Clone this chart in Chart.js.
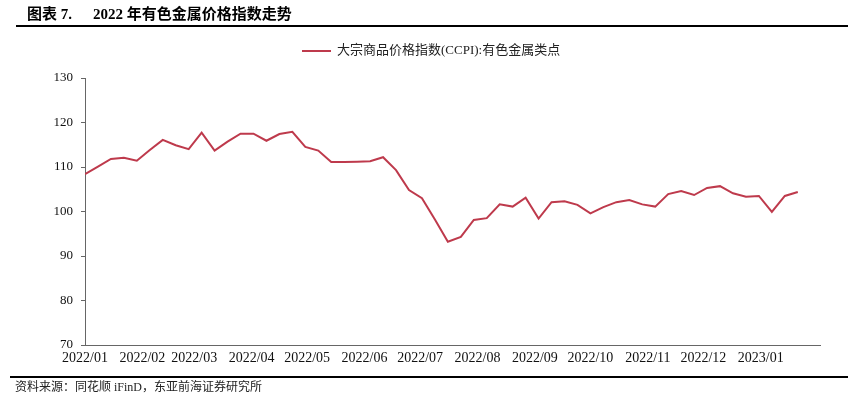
<!DOCTYPE html>
<html>
<head>
<meta charset="utf-8">
<script src="https://cdn.jsdelivr.net/npm/chart.js@4.4.0/dist/chart.umd.min.js"></script>
<style>
  html, body { margin: 0; padding: 0; background: #fff; }
  #wrap { width: 848px; height: 395px; position: relative; }
</style>
</head>
<body>
<div id="wrap"><canvas id="ccpi-chart"></canvas></div>
<script>
// weekly observation dates
var dates = [
  '2022-01-01','2022-01-08','2022-01-15','2022-01-22','2022-01-29','2022-02-05','2022-02-12','2022-02-19',
  '2022-02-26','2022-03-05','2022-03-12','2022-03-19','2022-03-26','2022-04-02','2022-04-09','2022-04-16',
  '2022-04-23','2022-04-30','2022-05-07','2022-05-14','2022-05-21','2022-05-28','2022-06-04','2022-06-11',
  '2022-06-18','2022-06-25','2022-07-02','2022-07-09','2022-07-16','2022-07-23','2022-07-30','2022-08-06',
  '2022-08-13','2022-08-20','2022-08-27','2022-09-03','2022-09-10','2022-09-17','2022-09-24','2022-10-01',
  '2022-10-08','2022-10-15','2022-10-22','2022-10-29','2022-11-05','2022-11-12','2022-11-19','2022-11-26',
  '2022-12-03','2022-12-10','2022-12-17','2022-12-24','2022-12-31','2023-01-07','2023-01-14','2023-01-21'
];

// CCPI non-ferrous metals index
var values = [
  108.4, 110.1, 111.8, 112.1, 111.4, 113.8, 116.1, 114.9,
  114.0, 117.7, 113.7, 115.7, 117.5, 117.5, 115.9, 117.4,
  117.9, 114.5, 113.7, 111.1, 111.1, 111.2, 111.3, 112.2,
  109.3, 104.8, 103.0, 98.2, 93.2, 94.3, 98.1, 98.5,
  101.6, 101.1, 103.1, 98.4, 102.1, 102.3, 101.5, 99.6,
  101.0, 102.1, 102.6, 101.6, 101.1, 103.9, 104.6, 103.7,
  105.3, 105.7, 104.1, 103.3, 103.5, 99.9, 103.5, 104.4
];

var monthLabels = ['2022/01','2022/02','2022/03','2022/04','2022/05','2022/06','2022/07',
                   '2022/08','2022/09','2022/10','2022/11','2022/12','2023/01'];

var seriesName = '大宗商品价格指数(CCPI):有色金属类点';
var titleNo = '图表 7.';
var titleText = '2022 年有色金属价格指数走势';
var sourceText = '资料来源：同花顺 iFinD，东亚前海证券研究所';

var lineColor = '#BE3A4C';

// days since 2022-01-01
var base = Date.parse('2022-01-01');
function toDay(s) { return Math.round((Date.parse(s) - base) / 86400000); }
var monthDays = monthLabels.map(function (m) { return toDay(m.replace('/', '-') + '-01'); });
var points = dates.map(function (d, i) { return { x: toDay(d), y: values[i] }; });

// title, legend and source drawn around the plot
var decorations = {
  id: 'decorations',
  afterDraw: function (chart) {
    var c = chart.ctx;
    c.save();
    c.fillStyle = '#000';
    c.textBaseline = 'middle';
    c.font = 'bold 15px "Liberation Serif", "Noto Sans CJK SC"';
    c.fillText(titleNo, 27, 15);
    c.fillText(titleText, 93, 15);
    c.fillRect(16, 25, 832, 2);

    // legend
    c.strokeStyle = lineColor;
    c.lineWidth = 2;
    c.beginPath();
    c.moveTo(302, 51);
    c.lineTo(331, 51);
    c.stroke();
    c.font = '13px "Liberation Serif", "Noto Sans CJK SC"';
    c.fillStyle = '#222';
    c.fillText(seriesName, 337, 51);

    // source
    c.fillStyle = '#000';
    c.fillRect(10, 376, 838, 2);
    c.font = '12px "Liberation Serif", "Noto Sans CJK SC"';
    c.fillStyle = '#222';
    c.fillText(sourceText, 15, 388);
    c.restore();
  }
};

var ctx = document.getElementById('ccpi-chart');

var chartData = {
  datasets: [{
    label: seriesName,
    data: points,
    borderColor: lineColor,
    borderWidth: 2,
    pointRadius: 0,
    tension: 0,
    fill: false
  }]
};

var chartOptions = {
  responsive: true,
  maintainAspectRatio: false,
  animation: false,
  layout: { padding: { top: 78, right: 28, bottom: 0, left: 0 } },
  plugins: {
    legend: { display: false },
    tooltip: { enabled: false }
  },
  scales: {
    x: {
      type: 'linear',
      min: 0,
      max: 397,
      afterFit: function (scale) { scale.height = 50; },
      afterBuildTicks: function (scale) {
        scale.ticks = monthDays.map(function (v) { return { value: v }; });
      },
      ticks: {
        autoSkip: false,
        maxRotation: 0,
        padding: 5,
        color: '#111',
        font: { family: '"Liberation Serif"', size: 14 },
        callback: function (v) {
          var i = monthDays.indexOf(v);
          return i >= 0 ? monthLabels[i] : '';
        }
      },
      grid: { display: false, drawTicks: false },
      border: { display: true, color: '#666', width: 1 }
    },
    y: {
      min: 70,
      max: 130,
      afterFit: function (scale) { scale.width = 85; },
      ticks: {
        stepSize: 10,
        padding: 8,
        color: '#111',
        font: { family: '"Liberation Serif"', size: 13 }
      },
      grid: { drawOnChartArea: false, drawTicks: true, tickLength: 4, color: '#666' },
      border: { display: true, color: '#666', width: 1 }
    }
  }
};

var config = {
  type: 'line',
  data: chartData,
  options: chartOptions,
  plugins: [decorations]
};

var ccpiChart = new Chart(ctx, config);
</script>
</body>
</html>
